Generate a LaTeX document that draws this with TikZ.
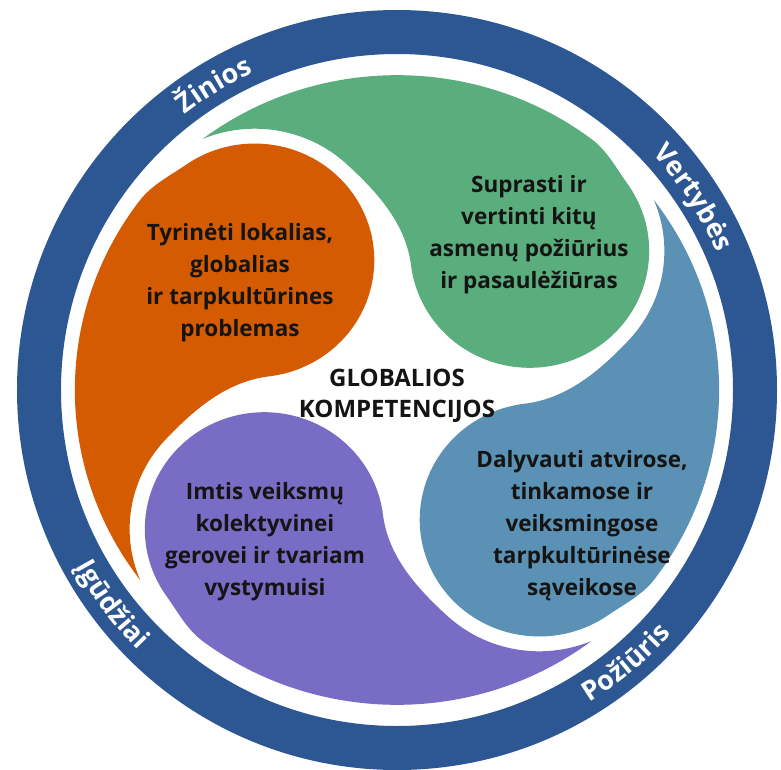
\documentclass[tikz,border=0pt]{standalone}
\usepackage{fontspec}
\setmainfont{Open Sans}
\usetikzlibrary{calc,decorations.text}
\definecolor{ringblue}{RGB}{44,87,146}
\definecolor{orangeC}{RGB}{213,91,2}
\definecolor{greenC}{RGB}{90,173,124}
\definecolor{tealC}{RGB}{90,145,180}
\definecolor{purpleC}{RGB}{121,108,196}
\definecolor{textdark}{RGB}{20,20,20}
\newcommand\swirlshape[2]{%
  \pgfmathsetmacro\aT{#1+80.11}%
  \pgfmathsetmacro\aE{#1+6}%
  \pgfmathsetmacro\aOut{#1-84}%
  \pgfmathsetmacro\aIn{#1+78}%
  \pgfmathsetmacro\hA{#1-12}%
  \pgfmathsetmacro\hB{#1-220}%
  \pgfmathsetmacro\fOut{#1+50}%
  \pgfmathsetmacro\fIn{#1-90}%
  \pgfmathsetmacro\nA{#1}%
  \pgfmathsetmacro\nB{#1+65.7}%
  \pgfmathsetmacro\nAng{#1+90}%
  \fill[#2] (\aT:318) arc[start angle=\aT, end angle=\aE, radius=318]
    .. controls +(\aOut:20) and +(\aIn:20) .. ($(#1:192)+(\hA:118)$)
    arc[start angle=\hA, end angle=\hB, radius=118]
    .. controls +(\fOut:42) and +(\fIn:42) .. ($(\nAng:192)+(\nA:133)$)
    arc[start angle=\nA, end angle=\nB, radius=133]
    -- cycle;
}
\newcommand\ringfont{\fontsize{27}{30}\selectfont\bfseries}
\tikzset{
  txt/.style={align=center, text=textdark, font=\fontsize{22.5}{32}\selectfont\bfseries, inner sep=0pt},
  ctxt/.style={align=center, text=textdark, font=\fontsize{24}{31}\selectfont\bfseries, inner sep=0pt},
  ringlabel/.style={decorate, decoration={text along path, text align=center, text color=white, text={|\ringfont|#1}}}
}
\begin{document}
\begin{tikzpicture}[x=1pt,y=1pt]
\useasboundingbox (-397,-379) rectangle (384,390);
\fill[white] (-397,-379) rectangle (384,390);
\fill[ringblue, even odd rule] (0,0) circle[radius=380] (0,0) circle[radius=336];
\begin{scope}[xscale=1.013, yscale=0.99]
\swirlshape{47}{greenC}
\swirlshape{137}{orangeC}
\swirlshape{227}{purpleC}
\swirlshape{317}{tealC}
\end{scope}
\path[ringlabel={Žinios}] (141:348) arc[start angle=141, end angle=101, radius=348];
\path[ringlabel={Vertybės}] (55:348) arc[start angle=55, end angle=11, radius=348];
\path[ringlabel={Požiūris}] (-72:367) arc[start angle=-72, end angle=-28, radius=367];
\path[ringlabel={Įgūdžiai}] (195:367) arc[start angle=195, end angle=239, radius=367];
\node[txt] (orangetext) at (-157,107) {Tyrinėti lokalias,\\globalias\\ir tarpkultūrines\\problemas};
\node[txt] (greentext) at (132,155) {Suprasti ir\\vertinti kitų\\asmenų požiūrius\\ir pasaulėžiūras};
\node[ctxt] (centertext) at (0,-6) {GLOBALIOS\\KOMPETENCIJOS};
\node[txt] (tealtext) at (185,-136) {Dalyvauti atvirose,\\tinkamose ir\\veiksmingose\\tarpkultūrinėse\\sąveikose};
\node[txt] (purpletext) at (-132,-152) {Imtis veiksmų\\kolektyvinei\\gerovei ir tvariam\\vystymuisi};
\end{tikzpicture}
\end{document}
